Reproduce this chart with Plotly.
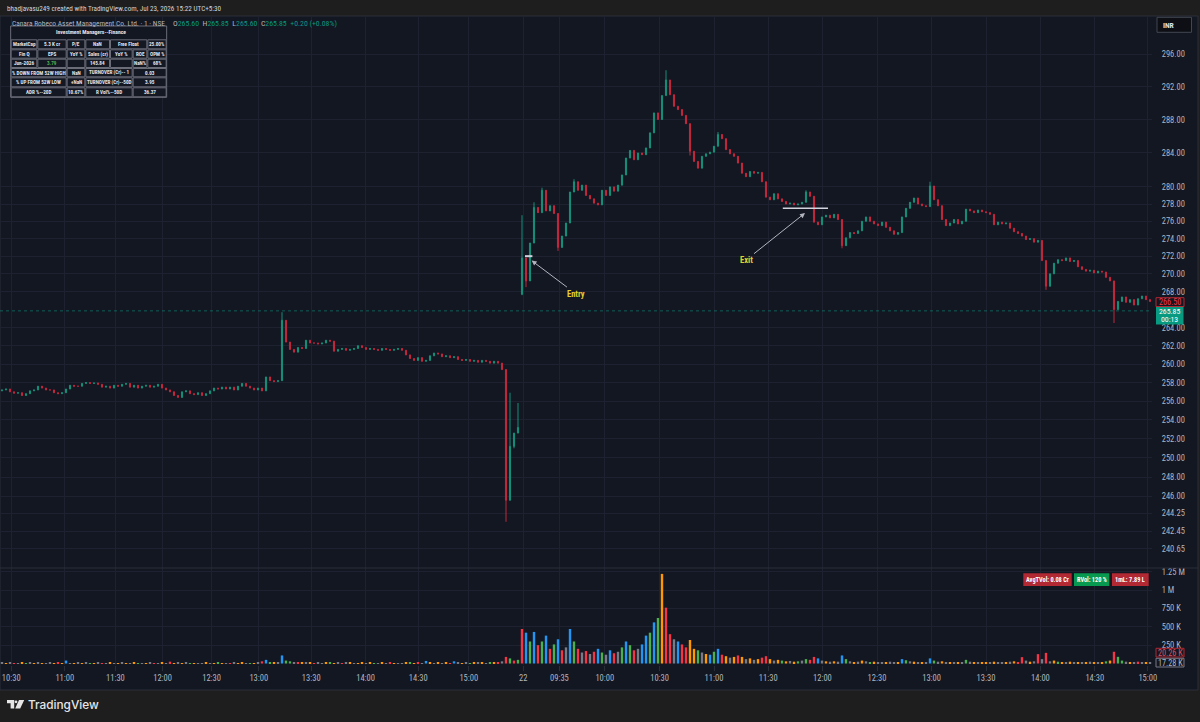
import math
import plotly.graph_objects as go

# ---------------- data ----------------
day1_open = 257.1
day1_close = [
    257.2, 257.3, 257.0, 256.85, 256.9, 256.6, 256.8, 257.1, 257.2, 257.6,
    257.4, 257.2, 257.2, 256.9, 256.8, 256.9, 257.3, 257.7, 257.6, 257.6,
    257.9, 258.0, 257.9, 257.95, 257.8, 257.5, 257.6, 257.4, 257.7, 257.6,
    257.8, 257.9, 257.5, 257.7, 257.4, 257.6, 257.7, 257.5, 257.6, 257.8,
    257.4, 257.2, 257.0, 256.6, 256.4, 257.0, 257.1, 256.8, 256.7, 256.9,
    256.6, 256.8, 257.1, 257.4, 257.3, 257.5, 257.3, 257.5, 257.2, 257.6,
    257.9, 257.6, 257.4, 257.2, 257.4, 257.1, 258.6, 258.2, 258.1, 258.2,
    264.8, 262.4, 261.6, 261.3, 261.8, 261.7, 262.6, 262.3, 262.3, 262.2,
    262.3, 262.6, 262.5, 261.4, 261.6, 261.7, 261.5, 261.6, 261.7, 262.0,
    261.8, 261.6, 261.7, 261.6, 261.5, 261.7, 261.6, 261.5, 261.6, 261.7,
    261.5, 261.0, 260.6, 260.4, 260.7, 260.3, 260.4, 260.9, 261.2, 261.1,
    260.8, 260.9, 260.7, 260.8, 260.5, 260.4, 260.5, 260.3, 260.4, 260.2,
    260.4, 260.3, 260.1, 260.3, 260.1, 259.4, 245.6, 251.2, 252.6, 253.2,
]
day2_open = 267.7
day2_close = [
    271.8, 269.2, 273.5, 277.6, 277.0, 279.6, 277.2, 277.8, 276.9, 273.0,
    274.3, 275.8, 279.4, 280.6, 279.6, 280.2, 279.0, 278.6, 278.1, 277.9,
    279.6, 279.0, 280.0, 279.5, 280.2, 281.4, 283.4, 284.3, 283.2, 284.0,
    283.8, 284.6, 286.4, 288.8, 288.0, 290.9, 292.8, 291.0, 289.6, 289.2,
    288.5, 287.5, 284.2, 283.0, 282.2, 283.6, 283.9, 284.1, 284.8, 286.2,
    285.7, 284.4, 283.9, 283.6, 282.8, 281.6, 281.2, 281.8, 281.6, 281.7,
    280.6, 278.8, 278.5, 279.2, 278.6, 278.3, 278.0, 278.1, 277.9, 278.0,
    278.2, 279.4, 278.9, 275.9, 275.6, 276.5, 276.7, 276.4, 276.8, 276.2,
    273.2, 274.1, 274.7, 274.6, 274.9, 276.0, 276.5, 276.0, 275.7, 275.5,
    275.9, 275.3, 274.9, 274.5, 274.7, 276.5, 277.5, 278.2, 278.7, 278.0,
    277.8, 277.7, 280.1, 278.5, 277.8, 276.2, 275.5, 275.8, 276.2, 275.7,
    276.0, 277.4, 277.2, 277.0, 277.3, 277.1, 277.0, 276.8, 275.6, 275.9,
    275.7, 275.8, 275.2, 274.8, 274.6, 274.3, 273.9, 274.0, 273.6, 273.8,
    271.5, 268.6, 270.0, 271.2, 271.6, 271.5, 271.8, 271.4, 271.5, 270.8,
    270.5, 270.3, 270.4, 270.1, 270.3, 270.2, 269.6, 269.2, 266.0, 266.9,
    267.4, 266.8, 267.1, 266.5, 267.2, 267.5, 267.1, 266.9,
]
# wick extremes (bar number, price)
high_bar = [70, 127, 129, 130, 133, 135, 143, 166, 179, 201, 232]
high_val = [265.7, 256.9, 255.8, 276.7, 278.2, 279.9, 280.9, 294.0, 286.5, 279.6, 280.6]
low_bar = [126, 128, 130, 131, 139, 172, 210, 261, 278]
low_val = [243.4, 251.0, 267.6, 268.5, 272.6, 283.7, 272.9, 268.2, 264.5]

# volumes in thousands + colour code per bar
day1_vol = [
    8, 6, 10, 5, 7, 12, 6, 9, 5, 8,
    7, 6, 9, 5, 8, 6, 40, 7, 5, 9,
    6, 8, 5, 7, 10, 6, 5, 8, 6, 7,
    9, 5, 6, 8, 5, 7, 6, 9, 5, 6,
    8, 7, 25, 6, 9, 5, 8, 6, 7, 5,
    6, 9, 7, 5, 8, 6, 7, 5, 9, 6,
    8, 5, 7, 6, 9, 30, 50, 12, 8, 10,
    110, 40, 30, 15, 10, 8, 12, 9, 7, 10,
    6, 8, 11, 7, 9, 6, 8, 10, 7, 5,
    9, 6, 8, 7, 5, 9, 6, 8, 5, 7,
    6, 9, 8, 7, 10, 6, 35, 8, 7, 9,
    6, 8, 7, 30, 9, 6, 8, 7, 10, 8,
    9, 7, 12, 10, 15, 30, 90, 70, 40, 50,
]
day1_vcol = ("nonrnognon" "onnorobnon" "ongonrnono" "nonognonrn" "onronongon"
             "nonogonrno" "ongonrbgon" "bggnronorn" "nogonrnono" "onognonron"
             "nogornbono" "norbnongon" "ongornrgrg")
day2_vol = [
    470, 420, 300, 430, 250, 300, 380, 200, 260, 330,
    180, 220, 470, 300, 200, 150, 170, 130, 160, 200,
    150, 120, 180, 140, 160, 220, 300, 250, 180, 200,
    260, 380, 420, 560, 620, 1220, 760, 400, 330, 300,
    260, 220, 320, 200, 180, 150, 130, 120, 160, 200,
    120, 100, 80, 90, 110, 90, 60, 70, 50, 60,
    80, 100, 60, 40, 50, 40, 30, 35, 25, 30,
    40, 60, 50, 90, 70, 40, 30, 25, 30, 25,
    110, 60, 30, 20, 25, 40, 30, 20, 25, 15,
    20, 15, 25, 20, 15, 60, 45, 30, 25, 20,
    15, 20, 70, 40, 25, 30, 20, 15, 20, 15,
    20, 50, 25, 15, 20, 15, 20, 15, 25, 20,
    15, 20, 25, 30, 20, 87, 40, 25, 30, 128,
    60, 145, 30, 40, 25, 20, 15, 25, 20, 15,
    20, 15, 25, 20, 15, 20, 30, 40, 160, 91,
    40, 25, 20, 15, 25, 20, 17, 17,
]
day2_vcol = ("rbgbrgbrgb" "rnbgrnrnrb" "gnbrngbgrn" "bbgbgorrnb" "rroognobgb"
             "ronoronono" "rronogonog" "ngrrbnonon" "bgnonongon" "nonnobgnon"
             "onbgnonono" "ngnonoonon" "nonorrnonr" "nrnogonono" "nononogorg"
             "gnonrnon")

time_tick_pos = [2.3, 15.7, 28.35, 40.15, 52.4, 64.2, 77.3, 90.9, 104.05, 116.7,
                 130.3, 139.35, 150.7, 164.4, 178.0, 191.55, 205.1, 218.75, 232.4,
                 246.0, 259.6, 273.2, 286.45]
time_tick_text = ["10:30", "11:00", "11:30", "12:00", "12:30", "13:00", "13:30", "14:00",
                  "14:30", "15:00", "22", "09:35", "10:00", "10:30", "11:00", "11:30",
                  "12:00", "12:30", "13:00", "13:30", "14:00", "14:30", "15:00"]
price_ticks = [296, 292, 288, 284, 280, 278, 276, 274, 272, 270, 268, 264, 262, 260,
               258, 256, 254, 252, 250, 248, 246, 244.25, 242.45, 240.65]
vol_ticks = [250000, 500000, 750000, 1000000, 1250000]
vol_tick_text = ["250 K", "500 K", "750 K", "1 M", "1.25 M"]

table_title = "Investment Managers--Finance"
table_rows = [
    [("MarketCap", 0, 1), ("5.3 K cr", 1, 2), ("P/E", 2, 3), ("NaN", 3, 4), ("Free Float", 4, 6), ("25.00%", 6, 7)],
    [("Fin Q", 0, 1), ("EPS", 1, 2), ("YoY %", 2, 3), ("Sales (cr)", 3, 4), ("YoY %", 4, 5), ("ROE", 5, 6), ("OPM %", 6, 7)],
    [("Jun-2026", 0, 1), ("3.79", 1, 2), ("", 2, 3), ("145.84", 3, 4), ("", 4, 5), ("NaN%", 5, 6), ("68%", 6, 7)],
    [("% DOWN FROM 52W HIGH", 0, 2), ("NaN", 2, 3), ("TURNOVER (Cr)-- 1", 3, 5), ("0.03", 5, 7)],
    [("% UP FROM 52W LOW", 0, 2), ("+NaN", 2, 3), ("TURNOVER (Cr)--50D", 3, 5), ("3.95", 5, 7)],
    [("ADR %--20D", 0, 2), ("10.67%", 2, 3), ("R Vol%--50D", 3, 5), ("36.37", 5, 7)],
]

# ---------------- build OHLC ----------------
closes = day1_close + day2_close
n = len(closes)
n1 = len(day1_close)
opens = []
for i in range(n):
    if i == 0:
        opens.append(day1_open)
    elif i == n1:
        opens.append(day2_open)
    else:
        opens.append(closes[i - 1])
highs = [max(o, c) for o, c in zip(opens, closes)]
lows = [min(o, c) for o, c in zip(opens, closes)]
for b, v in zip(high_bar, high_val):
    highs[b] = max(highs[b], v)
for b, v in zip(low_bar, low_val):
    lows[b] = min(lows[b], v)
xs = list(range(n))

vols = [v * 1000 for v in day1_vol + day2_vol]
vcodes = (day1_vcol + day2_vcol).ljust(n, "n")[:n]
VCOL = {"b": "#2196f3", "r": "#f23645", "g": "#4caf50", "o": "#ff9800", "n": "#787b86"}
vcolors = [VCOL[c] for c in vcodes]

# ---------------- layout helpers ----------------
W, H = 1200, 722
ML, MR, MT, MB = 0, 48, 17, 57
PW = W - ML - MR
PH = H - MT - MB
FONT = "Liberation Sans Narrow, Arial Narrow, Roboto Condensed, Roboto, sans-serif"
BG = "#131722"


def px(x):
    return (x - ML) / PW


def py(y):
    return (H - MB - y) / PH


shapes = []
annos = []


def rect(x0, y0, x1, y1, fill, line=None, lw=1, layer="above"):
    shapes.append(dict(type="rect", xref="paper", yref="paper",
                       x0=px(x0), x1=px(x1), y0=py(y1), y1=py(y0),
                       fillcolor=fill, layer=layer,
                       line=dict(color=line if line else "rgba(0,0,0,0)", width=lw if line else 0)))


def text(x, y, s, size=8, color="#d1d4dc", anchor="left", family=FONT, weight=None):
    f = dict(size=size, color=color, family=family)
    if weight:
        f["weight"] = weight
    annos.append(dict(xref="paper", yref="paper", x=px(x), y=py(y), text=s,
                      xanchor=anchor, yanchor="middle", showarrow=False, font=f, borderpad=0))


def path(points, fill):
    d = "M " + " L ".join(f"{px(a):.5f},{py(b):.5f}" for a, b in points) + " Z"
    shapes.append(dict(type="path", xref="paper", yref="paper", path=d,
                       fillcolor=fill, line=dict(width=0), layer="above"))


# chart panel background
rect(0, 16, 1198, 690, BG, line="#2a2e39", lw=1, layer="below")
# pane separator
shapes.append(dict(type="line", xref="paper", yref="paper", x0=0, x1=px(1198),
                   y0=py(568), y1=py(568), line=dict(color="#2a2e39", width=1)))
# last price dotted line
shapes.append(dict(type="line", xref="paper", yref="y", x0=0, x1=1, y0=265.85, y1=265.85,
                   line=dict(color="rgba(8,153,129,0.55)", width=1, dash="dot")))
# entry / exit levels
shapes.append(dict(type="line", xref="x", yref="y", x0=130.75, x1=132.6, y0=272.0, y1=272.0,
                   line=dict(color="#d1d4dc", width=2)))
shapes.append(dict(type="line", xref="x", yref="y", x0=195.2, x1=206.5, y0=277.5, y1=277.5,
                   line=dict(color="#d1d4dc", width=1.5)))

annos.append(dict(xref="x", yref="y", x=132.4, y=math.log10(271.5), text="<b>Entry</b>",
                  showarrow=True, ax=44, ay=33, arrowhead=2, arrowsize=1, arrowwidth=1,
                  arrowcolor="#b2b5be", font=dict(size=8.5, color="#e3d22c", family=FONT)))
annos.append(dict(xref="x", yref="y", x=200.75, y=math.log10(276.95), text="<b>Exit</b>",
                  showarrow=True, ax=-59, ay=47, arrowhead=2, arrowsize=1, arrowwidth=1,
                  arrowcolor="#b2b5be", font=dict(size=8.5, color="#e3d22c", family=FONT)))

# header & footer
text(6, 8, "bhadjavasu249 created with TradingView.com, Jul 23, 2026 15:22 UTC+5:30", size=7.2, color="#d1d4dc")
text(10.5, 23.5, "Canara Robeco Asset Management Co. Ltd. · 1 · NSE", size=7.4, color="#b2b5be")
T = "#089981"
text(171.5, 23.5,
     f"O<span style='color:{T}'>265.60</span>  H<span style='color:{T}'>265.85</span>  "
     f"L<span style='color:{T}'>265.60</span>  C<span style='color:{T}'>265.85</span>  "
     f"<span style='color:{T}'>+0.20 (+0.08%)</span>", size=7.8, color="#b2b5be")

# table
col_x = [10.67, 37.33, 66.67, 85.33, 110.0, 132.67, 147.33, 166.67]
row_y = [39.3, 49.3, 58.7, 68.0, 77.3, 87.3, 97.3]
rect(10.67, 26, 166.67, 97.3, "#131722", line="#6a6d78", lw=1)
text(91, 32, "<b>" + table_title + "</b>", size=5.6, color="#e0e3eb", anchor="center")
for r, cells in enumerate(table_rows):
    y0, y1 = row_y[r], row_y[r + 1]
    for (s, c0, c1) in cells:
        rect(col_x[c0] + 0.5, y0 + 0.5, col_x[c1] - 0.5, y1 - 0.5, "#141823", line="#6a6d78", lw=1)
        if s:
            col = "#4caf50" if s == "3.79" else "#e0e3eb"
            text((col_x[c0] + col_x[c1]) / 2, (y0 + y1) / 2, "<b>" + s + "</b>", size=5.2,
                 color=col, anchor="center")

# right-scale labels
rect(1157, 17.3, 1191.5, 32.3, "#0d0f15", line="#434651", lw=1)
text(1161.5, 25, "<b>INR</b>", size=7.5, color="#e0e3eb")
rect(1156, 297.7, 1184, 306.5, BG, line="#b22833", lw=1)
text(1170, 302.2, "266.50", size=8.2, color="#f23645", anchor="center")
rect(1156, 307, 1183.5, 324.5, "#089981")
text(1169.8, 311.6, "265.85", size=7.8, color="#ffffff", anchor="center")
text(1169.8, 319.8, "00:13", size=7.8, color="#ffffff", anchor="center")
rect(1156, 648.3, 1184, 657, BG, line="#b22833", lw=1)
text(1170, 652.7, "20.26 K", size=8.2, color="#e0505f", anchor="center")
rect(1156, 658.3, 1184, 667, BG, line="#787b86", lw=1)
text(1170, 662.7, "17.28 K", size=8.2, color="#b2b5be", anchor="center")

# volume badges
rect(1023.3, 573.3, 1071.7, 586, "#b22833")
text(1047.5, 579.7, "<b>AvgTVol: 0.08 Cr</b>", size=6.3, color="#ffffff", anchor="center")
rect(1074, 573.3, 1109.3, 586, "#089950")
text(1091.7, 579.7, "<b>RVol: 120 %</b>", size=6.3, color="#ffffff", anchor="center")
rect(1112, 573.3, 1148.7, 586, "#b22833")
text(1130.3, 579.7, "<b>1mL: 7.89 L</b>", size=6.3, color="#ffffff", anchor="center")

# footer logo
path([(7, 700), (14.2, 700), (14.2, 708.6), (10.6, 708.6), (10.6, 703.2), (7, 703.2)], "#e6e6e6")
shapes.append(dict(type="circle", xref="paper", yref="paper", x0=px(14.6), x1=px(17.4),
                   y0=py(703.2), y1=py(700.4), fillcolor="#e6e6e6", line=dict(width=0)))
path([(19.0, 700), (24.2, 700), (20.2, 708.6), (15.2, 708.6)], "#e6e6e6")
text(26.5, 704.6, "TradingView", size=11.8, color="#e6e6e6", family="Inter, Roboto, sans-serif", weight=500)

# ---------------- figure ----------------
fig = go.Figure()
fig.add_trace(go.Candlestick(
    x=xs, open=opens, high=highs, low=lows, close=closes,
    increasing=dict(line=dict(color="#169078", width=1), fillcolor="#169078"),
    decreasing=dict(line=dict(color="#c2283d", width=1), fillcolor="#c2283d"),
    whiskerwidth=0, xaxis="x", yaxis="y", hoverinfo="skip"))
fig.add_trace(go.Bar(x=xs, y=vols, marker=dict(color=vcolors, line=dict(width=0)),
                     width=0.6, xaxis="x", yaxis="y2", hoverinfo="skip"))

axfont = dict(family=FONT, size=8.5, color="#b2b5be")
GRID = "#1e2230"
fig.update_layout(
    width=W, height=H, margin=dict(l=ML, r=MR, t=MT, b=MB),
    paper_bgcolor="#1e1e1e", plot_bgcolor=BG, showlegend=False, hovermode=False,
    boxgap=0.6,
    xaxis=dict(domain=[0, 1], anchor="y2", range=[-0.5, n - 0.5],
               tickmode="array", tickvals=time_tick_pos, ticktext=time_tick_text,
               showgrid=True, gridcolor=GRID, gridwidth=1, zeroline=False,
               ticks="outside", ticklen=5, tickcolor="#2a2e39", tickfont=axfont,
               ticklabeloverflow="allow",
               showline=False, rangeslider=dict(visible=False)),
    yaxis=dict(domain=[py(568), 1], anchor="x", side="right", type="log",
               range=[math.log10(238.74), math.log10(300.62)],
               tickmode="array", tickvals=price_ticks, ticktext=[f"{v:.2f}" for v in price_ticks],
               showgrid=True, gridcolor=GRID, gridwidth=1, zeroline=False,
               ticks="outside", ticklen=7, tickcolor=BG, tickfont=axfont, showline=False),
    yaxis2=dict(domain=[0, py(568)], anchor="x", side="right",
                range=[-20000, 1300000], tickmode="array", tickvals=vol_ticks, ticktext=vol_tick_text,
                showgrid=True, gridcolor=GRID, gridwidth=1, zeroline=False,
                ticks="outside", ticklen=7, tickcolor=BG, tickfont=axfont, showline=False),
    shapes=shapes, annotations=annos,
)

fig.write_html("out.html")
